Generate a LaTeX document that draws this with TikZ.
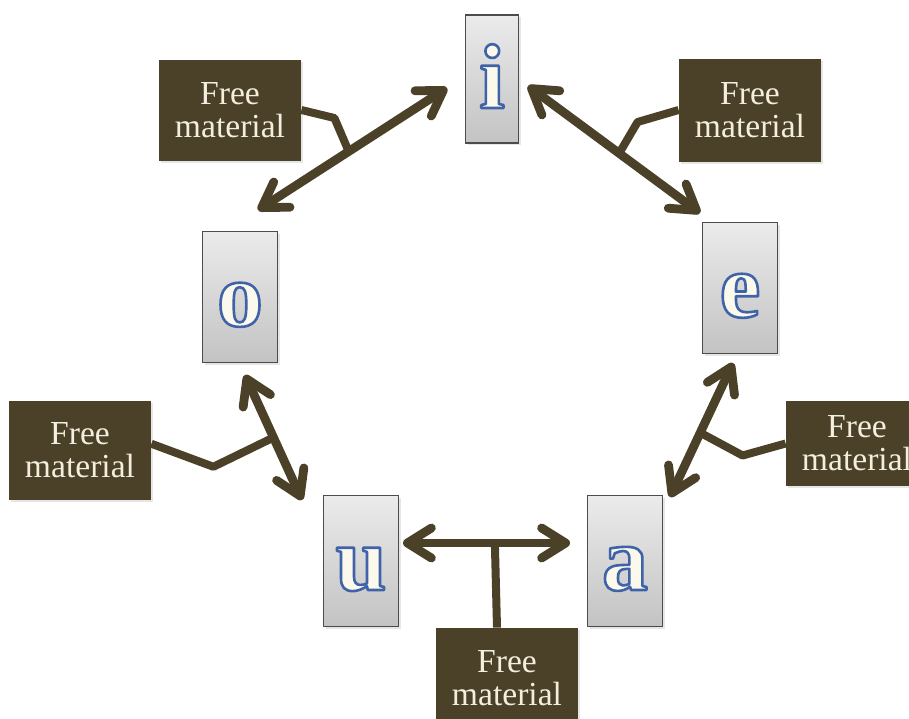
\documentclass[tikz,border=0pt]{standalone}
\usepackage{fontspec}
\setmainfont{Liberation Serif}
\usetikzlibrary{arrows.meta,calc,shadows}
\definecolor{cB}{HTML}{4B4128}
\definecolor{cT}{HTML}{F3EEDD}
\definecolor{cP}{HTML}{FBF8EC}
\definecolor{cG}{HTML}{EBEBEB}
\definecolor{cH}{HTML}{C3C3C3}
% blue rim round the vowel glyph (fill + stroke render mode)
\newcommand\rim[1]{\special{pdf:literal direct 2 Tr 1.3 w 1 j 0.247 0.384 0.659 RG}#1\special{pdf:literal direct 0 Tr}}
\tikzset{
  vowel/.style={draw=black!70,line width=.8pt,top color=cG,bottom color=cH,
              minimum width=37.5pt,minimum height=65.5pt,inner sep=0pt,text=cP,
              text height=29pt,text depth=0pt,
              font=\bfseries\fontsize{46}{46}\selectfont,
              drop shadow={opacity=.2,shadow xshift=1pt,shadow yshift=-1pt}},
  freebox/.style={fill=cB,text=cT,minimum width=71pt,inner sep=0pt,align=center,
              font=\fontsize{16.8}{16.5}\selectfont,
              drop shadow={opacity=.2,shadow xshift=1pt,shadow yshift=-1pt}},
  dbl/.style={{Straight Barb[length=12pt,width=15pt,round]}-{Straight Barb[length=12pt,width=15pt,round]},
              line width=4.4pt,cB},
  feed/.style={line width=4pt,cB,line join=round},
}

\begin{document}
\begin{tikzpicture}[x=.5pt,y=-.5pt]
  \useasboundingbox (0,0) rectangle (909,718);
  \clip (0,0) rectangle (909,718);
  % five vowels round the ring
  \node[vowel,minimum width=26.5pt,minimum height=64pt] (i) at (492,79) {\rim{i}};
  \node[vowel] (e) at (740,288) {\rim{e}};
  \node[vowel] (a) at (625,561) {\rim{a}};
  \node[vowel] (u) at (361,561) {\rim{u}};
  \node[vowel] (o) at (240,297) {\rim{o}};
  \node[freebox,minimum height=50.5pt] (ftl) at (230,110) {Free\\material};
  \node[freebox,minimum height=51.5pt] (ftr) at (750,110) {Free\\material};
  \node[freebox,minimum height=49.5pt] (fl) at (80,450) {Free\\material};
  \node[freebox,minimum height=42.5pt] (fr) at (857,443.5) {Free\\material};
  \node[freebox,minimum height=50pt] (fb) at (507,678) {Free\\material};
  \coordinate (io1) at (447,88);  \coordinate (io2) at (258,210);
  \coordinate (ie1) at (528,86);  \coordinate (ie2) at (700,213);
  \coordinate (ea1) at (733,363); \coordinate (ea2) at (670,497);
  \coordinate (ou1) at (245,375); \coordinate (ou2) at (302,500);
  \coordinate (ua1) at (403,543); \coordinate (ua2) at (570,543);
  \draw[feed] (ftl.east) -- ++(33,8) -- ($(io1)!.52!(io2)$);
  \draw[feed] (ftr.west) -- ++(-41,12) -- ($(ie1)!.53!(ie2)$);
  \draw[feed] (fr.west) -- ++(-43,12) -- ($(ea1)!.52!(ea2)$);
  \draw[feed] (fl.5) -- ++(62,23) -- ($(ou1)!.5!(ou2)$);
  \draw[feed] ([xshift=-5pt]fb.north) -- ($(ua1)!.55!(ua2)$);
  \draw[dbl] (io1) -- (io2);
  \draw[dbl] (ie1) -- (ie2);
  \draw[dbl] (ea1) -- (ea2);
  \draw[dbl] (ou1) -- (ou2);
  \draw[dbl] (ua1) -- (ua2);
\end{tikzpicture}
\end{document}
